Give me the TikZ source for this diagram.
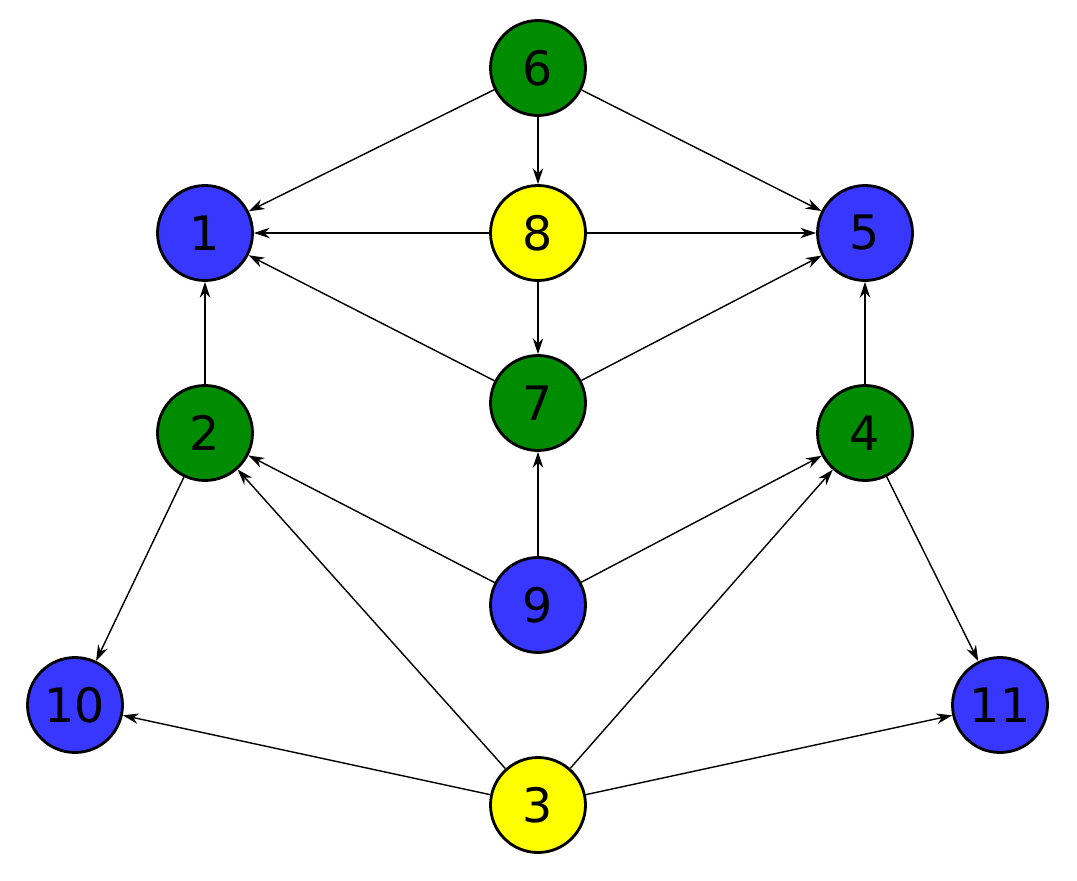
\documentclass[tikz,border=0pt]{standalone}
\usepackage{fontspec}
\setmainfont{DejaVu Sans}
\usetikzlibrary{arrows.meta}
\definecolor{vgreen}{RGB}{0,140,0}
\definecolor{vblue}{RGB}{55,55,255}
\definecolor{vyellow}{RGB}{255,255,0}
\begin{document}
\begin{tikzpicture}[
	vertex/.style={circle, draw=black, line width=1.6pt, minimum size=1.9cm, inner sep=0pt, font=\fontsize{27}{30}\selectfont},
	green/.style={vertex, fill=vgreen},
	blue/.style={vertex, fill=vblue},
	yellow/.style={vertex, fill=vyellow},
	edge/.style={-{Stealth[length=9pt,width=6pt]}, line width=0.8pt}
]
	\useasboundingbox (0,0) rectangle (21.54,17.6);
	\node[green]  (n6)  at (10.76,16.24) {6};
	\node[blue]   (n1)  at (4.10,12.94) {1};
	\node[yellow] (n8)  at (10.76,12.94) {8};
	\node[blue]   (n5)  at (17.30,12.94) {5};
	\node[green]  (n2)  at (4.10,8.94) {2};
	\node[green]  (n7)  at (10.76,9.54) {7};
	\node[green]  (n4)  at (17.30,8.94) {4};
	\node[blue]   (n9)  at (10.76,5.50) {9};
	\node[blue]   (n10) at (1.50,3.50) {10};
	\node[blue]   (n11) at (20.00,3.50) {11};
	\node[yellow] (n3)  at (10.76,1.50) {3};
	\draw[edge] (n6) -- (n1);
	\draw[edge] (n6) -- (n8);
	\draw[edge] (n6) -- (n5);
	\draw[edge] (n8) -- (n1);
	\draw[edge] (n8) -- (n5);
	\draw[edge] (n8) -- (n7);
	\draw[edge] (n7) -- (n1);
	\draw[edge] (n7) -- (n5);
	\draw[edge] (n2) -- (n1);
	\draw[edge] (n4) -- (n5);
	\draw[edge] (n9) -- (n7);
	\draw[edge] (n9) -- (n2);
	\draw[edge] (n9) -- (n4);
	\draw[edge] (n2) -- (n10);
	\draw[edge] (n4) -- (n11);
	\draw[edge] (n3) -- (n10);
	\draw[edge] (n3) -- (n11);
	\draw[edge] (n3) -- (n2);
	\draw[edge] (n3) -- (n4);
\end{tikzpicture}
\end{document}
